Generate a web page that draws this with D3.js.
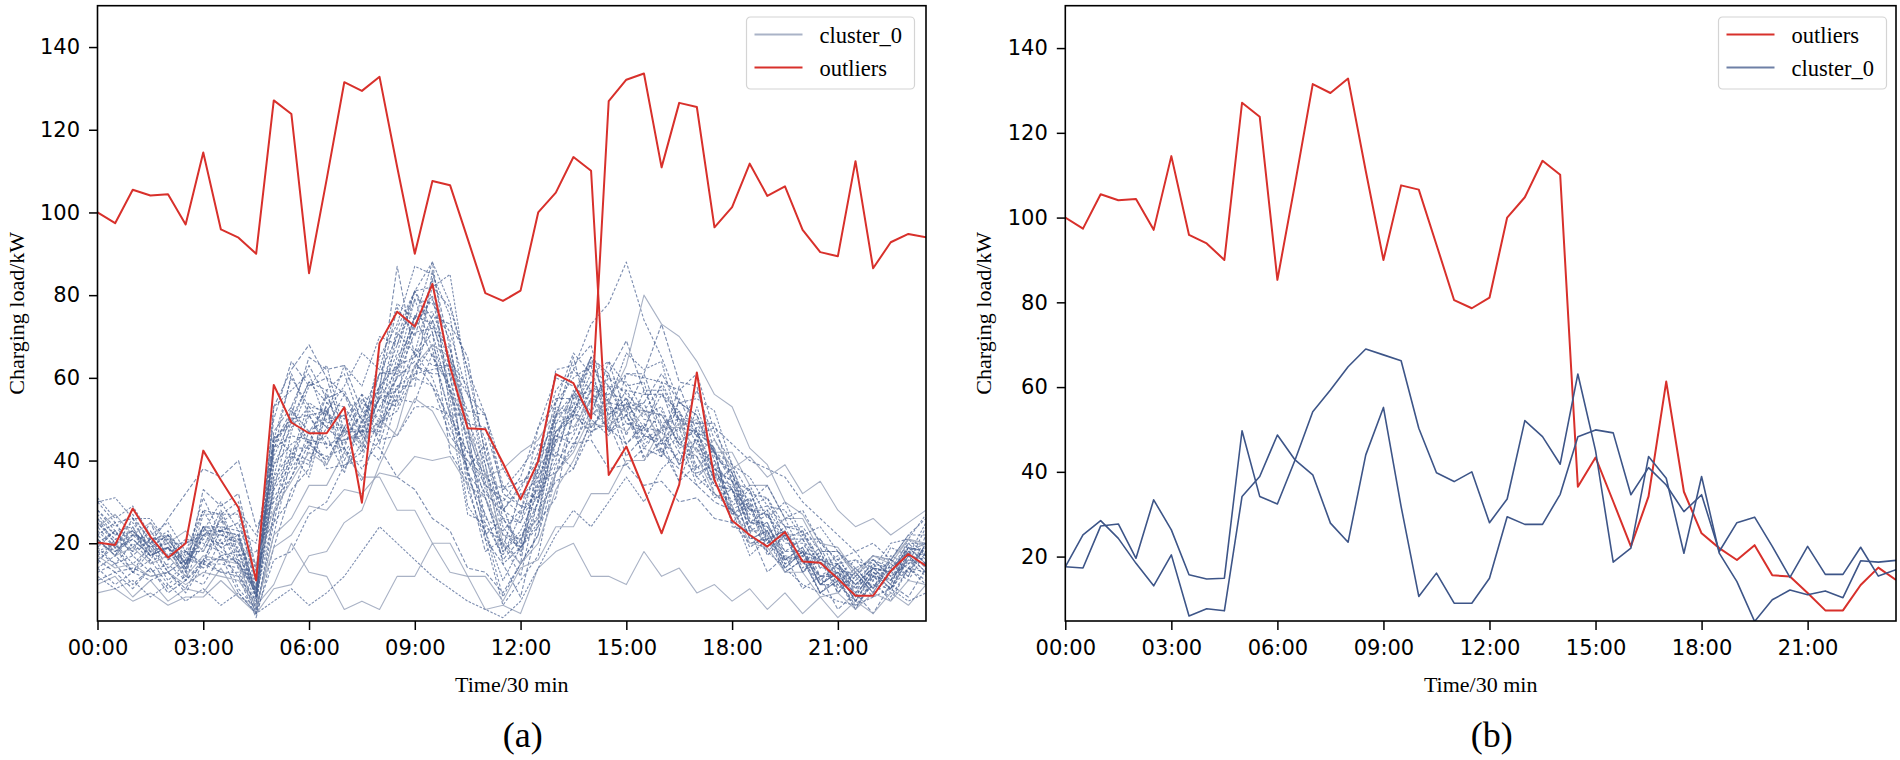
<!DOCTYPE html>
<html>
<head lang="en">
    <meta charset="UTF-8">
    <title></title>
    <style>
        body { margin: 0; background: #fff; }
        .tick text { font-family: "DejaVu Sans", sans-serif; font-size: 21px; fill: #000; }
        .tick line { stroke: #000; stroke-width: 1.5; }
        .serif { font-family: "Liberation Serif", "Times New Roman", serif; fill: #000; }
    </style>
</head>
<body>
<svg width="1900" height="760"></svg>
<script src="https://cdn.jsdelivr.net/npm/d3@7"></script>
<script>
    // x = half-hour slot 0..47
    var tickIdx = [0, 6, 12, 18, 24, 30, 36, 42];
    var tickLabels = ["00:00", "03:00", "06:00", "09:00", "12:00", "15:00", "18:00", "21:00"];
    var yTicks = [20, 40, 60, 80, 100, 120, 140];

    // outlier profiles (kW)
    var outliersA = [100, 97.4, 105.5, 104.1, 104.4, 97.1, 114.5, 95.9, 93.9, 90.0,
        127.1, 123.8, 85.3, 108, 131.5, 129.4, 132.8, 111, 90.0, 107.6,
        106.6, 93.6, 80.5, 78.6, 81.1, 100.0, 104.8, 113.4, 110.1, 36.5,
        43.4, 33.0, 22.4, 34.2, 61.3, 35.3, 25.5, 22.0, 19.2, 22.7,
        15.6, 15.3, 11.4, 7.3, 7.3, 13.3, 17.4, 14.5];
    var outliersB = [20.2, 19.6, 28.4, 21.6, 16.5, 20.0, 42.4, 35.3, 28.6, 11.0,
        58.3, 49.2, 46.6, 46.6, 52.9, 29.8, 68.4, 76.0, 72.4, 82.7,
        62.7, 47.8, 47.6, 39.4, 30.6, 39.8, 60.9, 58.7, 50.2, 126.9,
        132.1, 133.6, 110.9, 126.5, 125.5, 96.4, 101.3, 111.8, 104.0, 106.3,
        95.8, 90.4, 89.4, 112.4, 86.5, 92.8, 94.8, 94.0];

    // panel (b) cluster_0 profiles
    var clusterB1 = [17.6, 25.1, 28.5, 24.3, 18.4, 13.1, 20.4, 6.0, 7.7, 7.2,
        34.2, 38.9, 48.7, 42.8, 39.3, 27.9, 23.4, 44.0, 55.2, 31.8,
        10.6, 16.1, 9.0, 9.0, 14.9, 29.4, 27.6, 27.6, 34.7, 48.3,
        49.9, 49.2, 34.6, 41.0, 36.9, 30.6, 34.6, 21.2, 28.0, 29.3,
        22.4, 15.1, 22.4, 15.8, 15.8, 22.2, 15.4, 16.9];
    var clusterB2 = [17.6, 17.3, 27.2, 27.7, 19.6, 33.4, 26.3, 15.7, 14.7, 14.9,
        49.7, 34.2, 32.4, 42.8, 54.2, 59.3, 64.8, 69.0, 67.6, 66.2,
        50.3, 39.8, 37.7, 40.0, 28.0, 33.6, 52.1, 48.3, 41.8, 63.1,
        45.0, 18.7, 22.0, 43.6, 38.5, 20.8, 38.9, 20.8, 14.1, 4.7,
        9.8, 12.1, 11.0, 11.9, 10.3, 19.0, 18.7, 19.1];

    // panel (a) cluster_0 members
    var clusterA = [
        [22,18,21,17,19,14,24,19,15,9, 44,52,47,53,40,49, 58,77,70,84, 52,38,22,26, 19,38,45,57,51,55, 44,49,41,55,46,42, 28,31,20,24,15,19, 11,14,9,16,13,20],
        [28,24,27,20,23,16,31,22,20,12, 33,50,44,57,42,48, 55,72,81,88, 60,44,24,20, 12,31,40,56,52,61, 46,57,48,52,38,43, 25,29,17,22,13,18, 8,12,7,14,11,18],
        [14,17,13,18,11,15,19,28,18,7, 27,47,58,63,47,54, 50,71,66,82, 85,58,39,18, 22,26,54,60,63,47, 51,44,47,39,53,41, 37,25,28,16,19,10, 13,6,12,9,16,12],
        [26,20,23,19,22,13,33,29,32,14, 50,64,58,60,46,51, 57,87,65,71, 42,35,18,21, 15,41,50,65,48,53, 52,61,49,50,37,39, 27,30,18,22,13,17, 9,13,8,15,12,22],
        [17,20,13,16,10,14,12,21,9,4, 22,41,39,52,43,55, 49,65,72,80, 56,46,26,23, 28,38,62,63,68,50, 54,40,45,35,46,32, 29,19,22,13,16,8, 11,5,10,7,14,11],
        [31,26,29,22,25,18,28,20,22,8, 36,53,44,46,37,50, 46,61,62,74, 64,58,36,33, 38,44,41,54,51,64, 58,59,44,48,36,40, 29,33,22,26,17,21, 12,16,11,19,17,25],
        [11,13,9,14,8,11,16,13,12,2, 19,33,38,54,50,56, 44,58,58,86, 67,48,21,15, 7,25,31,52,48,54, 41,46,44,58,47,43, 24,23,13,17,9,12, 4,8,3,10,7,14],
        [21,17,24,15,19,12,27,27,30,13, 42,61,51,52,38,44, 40,55,54,66, 51,51,34,31, 27,48,54,66,61,64, 51,54,42,46,34,37, 27,29,21,23,14,18, 10,14,9,17,15,24],
        [25,21,23,17,21,15,24,17,18,5, 35,41,54,51,63,58, 70,68,81,71, 55,29,23,11, 19,27,47,51,64,54, 66,62,64,48,47,35, 28,17,21,13,16,8, 12,4,12,8,17,13],
        [15,21,18,25,16,18,15,27,17,18, 25,43,43,56,45,47, 47,63,65,75, 73,65,41,29, 17,35,37,51,47,49, 39,43,41,51,49,49, 35,33,21,23,13,16, 8,13,8,16,12,20],
        [28,23,24,17,19,11,22,19,21,6, 45,49,59,57,61,49, 61,61,73,79, 69,37,23,7, 15,22,45,55,65,52, 51,43,48,47,57,45, 37,23,23,14,18,10, 13,6,13,9,17,13],
        [18,20,15,19,13,16,16,24,15,8, 39,44,47,39,48,47, 65,73,87,85, 75,47,35,15, 19,25,49,51,59,51, 55,45,48,39,43,34, 33,21,23,14,18,10, 14,7,14,10,19,15],
        [24,19,26,18,20,13,24,23,25,11, 47,53,63,55,57,47, 55,53,63,61, 61,49,48,33, 35,37,55,55,57,47, 61,61,73,59,58,42, 35,23,25,16,19,11, 15,8,15,11,20,16],
        [13,15,10,14,9,12,10,17,8,3, 25,31,43,41,43,35, 49,55,75,73, 61,33,21,5, 11,17,37,43,55,47, 49,47,59,57,61,47, 39,25,25,15,17,8, 11,4,11,6,14,10],
        [27,22,25,19,22,15,28,27,27,9, 53,57,61,49,51,43, 58,63,79,67, 51,27,25,17, 27,33,53,52,61,51, 55,51,53,43,45,35, 38,29,31,21,23,14, 17,9,16,12,21,17],
        [20,23,17,21,14,18,18,26,16,11, 43,51,65,62,63,52, 61,62,75,65, 58,37,31,19, 32,31,51,53,65,61, 69,57,57,45,47,37, 33,21,23,15,18,10, 13,6,13,9,18,14],
        [16,19,13,20,13,16,15,23,14,9, 33,39,51,43,47,45, 55,57,67,63, 63,52,51,32, 29,31,45,47,57,49, 51,41,43,35,39,31, 33,24,27,18,21,12, 15,7,14,10,19,15],
        [10,12,7,11,6,9,8,14,7,5, 10,20,13,12,4,6, 4,12,12,20, 13,12,4,5, 3,14,18,20,12,12, 10,18,12,14,8,10, 6,9,4,8,3,7, 2,6,3,8,5,10],
        [21,17,19,15,17,12,17,16,15,4, 22,26,34,34,42,36, 36,28,28,20, 20,12,12,6, 14,16,24,24,32,32, 40,40,48,48,50,42, 42,34,34,26,26,18, 18,12,17,15,21,19],
        [23,19,21,17,19,15,21,20,19,7, 31,38,45,44,43,38, 45,46,53,53, 51,42,37,28, 33,42,57,62,73,78, 88,74,65,54,51,42, 37,28,27,20,20,14, 14,10,14,13,19,18],
        [30,31,26,26,20,20,23,30,23,20, 45,60,53,52,47,47, 49,58,61,68, 57,48,33,26, 25,40,51,62,57,58, 49,48,47,54,55,52, 39,36,29,28,21,21, 15,16,14,20,21,27],
        [16,13,14,12,13,9,16,16,16,4, 53,62,68,60,56,46, 43,36,33,26, 23,14,13,8, 15,22,37,44,45,38, 39,34,35,30,31,26, 25,20,21,16,17,12, 13,9,13,11,16,15],
        [19,15,17,13,15,11,15,13,13,3, 16,18,27,30,39,42, 56,66,81,82, 77,62,51,34, 29,28,35,38,47,50, 57,56,56,50,49,42, 39,32,31,24,23,16, 15,10,14,13,18,17],
        [25,20,22,18,19,14,22,22,21,7, 39,48,53,48,48,42, 49,52,61,62, 63,56,51,38, 31,36,47,50,57,56, 61,60,59,50,47,38, 35,28,28,22,22,16, 16,11,15,14,20,20],
        [8,9,6,8,5,7,7,11,7,3, 9,10,17,18,25,28, 39,48,63,68, 65,48,37,20, 15,20,33,40,49,48, 53,52,51,44,41,32, 29,20,19,13,13,7, 8,4,8,6,11,10],
        [30,25,26,21,22,17,24,24,23,8, 43,46,45,38,39,40, 57,68,79,78, 71,56,45,28, 25,34,51,56,63,58, 57,50,49,42,41,34, 33,28,29,24,24,18, 18,13,17,16,22,22],
        [17,14,15,12,13,10,13,12,11,5, 19,22,29,28,33,32, 37,36,41,40, 41,34,31,22, 21,26,37,42,51,54, 63,80,73,70,64,56, 53,43,39,30,27,20, 19,13,17,16,21,20],
        [21,17,22,21,21,15,22,23,22,7, 45,50,51,44,45,46, 61,70,81,74, 57,36,27,16, 21,30,47,52,59,54, 53,54,61,54,51,40, 33,25,24,18,18,12, 12,8,12,11,17,16],
        [14,10,13,11,13,8,15,15,14,3, 27,36,47,50,51,44, 53,60,71,72, 67,50,39,22, 19,24,39,46,55,56, 55,46,45,40,45,38, 35,26,24,17,16,10, 10,6,10,9,14,13],
        [26,22,23,19,20,15,23,23,22,8, 41,50,59,54,53,46, 55,62,75,76, 65,44,31,18, 23,32,49,56,65,60, 59,52,51,44,43,36, 34,27,27,21,21,15, 15,10,14,13,19,18],
        [24,27,22,25,20,23,18,26,20,15, 28,35,42,39,47,44, 50,46,55,52, 44,40,36,38, 42,45,52,48,55,50, 47,52,45,49,42,45, 38,41,36,39,32,35, 28,24,26,22,25,28],
        [19,23,18,21,16,20,22,25,28,22, 36,42,40,48,44,52, 48,56,60,58, 50,42,34,30, 36,48,60,58,54,60, 56,52,58,50,46,48, 44,40,38,36,30,26, 22,18,20,16,22,26],
        [12,9,11,7,10,6,9,5,8,3, 6,9,5,8,12,18, 24,20,16,12, 9,6,4,2, 6,14,22,28,24,30, 36,30,38,42,36,32, 28,22,18,14,10,8, 6,5,7,9,6,8],
        [20,18,22,20,26,32,38,36,40,24, 30,36,44,40,48,56, 52,60,64,58, 46,40,32,28, 34,40,46,44,52,48, 44,48,42,38,34,30, 28,24,20,22,18,16, 14,12,16,14,18,20],
        [18,15,20,16,22,18,14,17,12,6, 34,40,52,48,56,50, 58,54,66,60, 48,38,44,26, 20,36,44,52,46,58, 52,46,52,44,48,42, 36,30,34,26,28,20, 16,18,12,16,14,19],
        [22,25,19,23,17,21,20,18,15,10, 46,42,36,52,58,66, 62,78,74,88, 78,62,42,24, 18,30,42,38,50,46, 54,48,56,52,44,38, 30,34,26,30,22,24, 18,14,16,12,15,18]
    ];
    var solidMembers = [17, 18, 24, 26, 30];

    var RED = "#d8302b", BLUE = "#3d5588";

    var svg = d3.select("svg");

    function draw(p) {
        var xScale = d3.scaleLinear().domain([0, 47]).range([p.left, p.right]);
        var yScale = d3.scaleLinear().domain([p.yMin, 150]).range([p.bottom, p.top]);

        var g = svg.append("g");

        var clipId = "clip" + p.key;
        svg.append("clipPath").attr("id", clipId)
            .append("rect")
            .attr("x", p.left).attr("y", p.top)
            .attr("width", p.right - p.left).attr("height", p.bottom - p.top);

        var lineGen = d3.line()
            .x(function (d, i) { return xScale(i); })
            .y(function (d) { return yScale(d); });

        var plot = g.append("g").attr("clip-path", "url(#" + clipId + ")");

        p.series.forEach(function (s) {
            plot.append("path")
                .attr("d", lineGen(s.values))
                .attr("fill", "none")
                .attr("stroke", s.color)
                .attr("stroke-width", s.width)
                .attr("stroke-opacity", s.opacity || 1)
                .attr("stroke-dasharray", s.dash || null)
                .attr("stroke-linejoin", "round");
        });

        var xAxis = d3.axisBottom(xScale)
            .tickValues(tickIdx)
            .tickFormat(function (d, i) { return tickLabels[i]; })
            .tickSize(9).tickSizeOuter(0).tickPadding(10);
        var yAxis = d3.axisLeft(yScale)
            .tickValues(yTicks)
            .tickSize(8.5).tickSizeOuter(0).tickPadding(9);

        g.append("g").attr("transform", "translate(0," + p.bottom + ")").call(xAxis)
            .select(".domain").remove();
        g.append("g").attr("transform", "translate(" + p.left + ",0)").call(yAxis)
            .select(".domain").remove();

        g.append("rect")
            .attr("x", p.left).attr("y", p.top)
            .attr("width", p.right - p.left).attr("height", p.bottom - p.top)
            .attr("fill", "none").attr("stroke", "#000").attr("stroke-width", 1.6);

        // axis titles
        var midX = (p.left + p.right) / 2, midY = (p.top + p.bottom) / 2;
        g.append("text").attr("class", "serif")
            .attr("x", midX).attr("y", 692)
            .attr("text-anchor", "middle").style("font-size", "22px")
            .text("Time/30 min");
        g.append("text").attr("class", "serif")
            .attr("transform", "translate(" + (p.left - 74) + "," + midY + ") rotate(-90)")
            .attr("text-anchor", "middle").style("font-size", "22px")
            .text("Charging load/kW");
        g.append("text").attr("class", "serif")
            .attr("x", midX + 11).attr("y", 747)
            .attr("text-anchor", "middle").style("font-size", "36px")
            .text(p.label);

        // legend
        var lg = g.append("g").attr("transform", "translate(" + p.legendX + ",17)");
        lg.append("rect")
            .attr("width", 168).attr("height", 72).attr("rx", 4)
            .attr("fill", "#fff").attr("fill-opacity", 0.8)
            .attr("stroke", "#d4d4d4").attr("stroke-width", 1.2);
        p.legend.forEach(function (e, i) {
            var y = 17.5 + i * 33;
            lg.append("line")
                .attr("x1", 8).attr("x2", 56).attr("y1", y).attr("y2", y)
                .attr("stroke", e.color).attr("stroke-width", 1.8);
            lg.append("text").attr("class", "serif")
                .attr("x", 73).attr("y", y + 8)
                .style("font-size", "22.5px")
                .text(e.name);
        });
    }

    var seriesA = clusterA.map(function (v, i) {
        var solid = solidMembers.indexOf(i) >= 0;
        return {
            values: v,
            color: solid ? "#9aa5bb" : "#4a6192",
            width: 1.1,
            opacity: solid ? 0.85 : 0.72,
            dash: solid ? null : (i % 3 === 0 ? "4,2" : (i % 3 === 1 ? "3,2" : "2.5,1.5"))
        };
    });
    seriesA.push({values: outliersA, color: RED, width: 2});
    seriesA.push({values: outliersB, color: RED, width: 2});

    draw({
        key: "a", label: "(a)",
        left: 97.5, right: 926, top: 5.7, bottom: 621, yMin: 1.2,
        legendX: 746.5,
        series: seriesA,
        legend: [{name: "cluster_0", color: "#aab3c7"}, {name: "outliers", color: RED}]
    });

    draw({
        key: "b", label: "(b)",
        left: 1065.3, right: 1896, top: 5.7, bottom: 621, yMin: 4.8,
        legendX: 1718.5,
        series: [
            {values: outliersA, color: RED, width: 2},
            {values: clusterB1, color: BLUE, width: 1.6},
            {values: clusterB2, color: BLUE, width: 1.6}
        ],
        legend: [{name: "outliers", color: RED}, {name: "cluster_0", color: "#6e80a6"}]
    });
</script>
</body>
</html>
